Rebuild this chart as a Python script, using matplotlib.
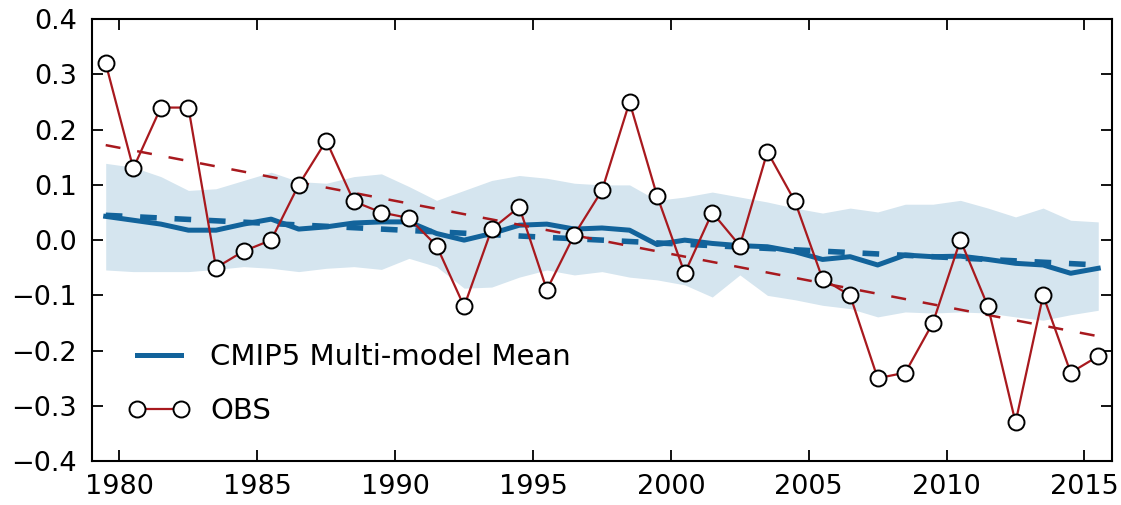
import numpy as np
import matplotlib
matplotlib.use("Agg")
import matplotlib.pyplot as plt
from matplotlib.ticker import FuncFormatter

plt.rcParams['font.family'] = ['DejaVu Sans']

# %% data
years = np.arange(1979, 2016)

obs = [0.32, 0.13, 0.24, 0.24, -0.05, -0.02, 0.00, 0.10, 0.18, 0.07,
       0.05, 0.04, -0.01, -0.12, 0.02, 0.06, -0.09, 0.01, 0.09, 0.25,
       0.08, -0.06, 0.05, -0.01, 0.16, 0.07, -0.07, -0.10, -0.25, -0.24,
       -0.15, 0.00, -0.12, -0.33, -0.10, -0.24, -0.21]

cmip_mean = [0.043, 0.036, 0.029, 0.018, 0.018, 0.029, 0.038, 0.020, 0.024, 0.031,
             0.033, 0.033, 0.012, 0.000, 0.012, 0.027, 0.029, 0.020, 0.022, 0.018,
             -0.008, 0.000, -0.006, -0.010, -0.012, -0.021, -0.035, -0.030, -0.045, -0.027,
             -0.030, -0.029, -0.035, -0.042, -0.045, -0.060, -0.051]

cmip_upper = [0.139, 0.132, 0.115, 0.090, 0.093, 0.108, 0.123, 0.106, 0.103, 0.115,
              0.120, 0.097, 0.072, 0.090, 0.108, 0.117, 0.112, 0.103, 0.100, 0.100,
              0.072, 0.078, 0.087, 0.078, 0.069, 0.058, 0.049, 0.058, 0.051, 0.065,
              0.065, 0.072, 0.058, 0.042, 0.058, 0.036, 0.033]

cmip_lower = [-0.054, -0.057, -0.057, -0.057, -0.053, -0.048, -0.051, -0.057, -0.051, -0.048,
              -0.053, -0.033, -0.048, -0.087, -0.085, -0.067, -0.054, -0.063, -0.057, -0.067,
              -0.072, -0.081, -0.103, -0.063, -0.100, -0.108, -0.118, -0.124, -0.139, -0.130,
              -0.132, -0.130, -0.132, -0.139, -0.145, -0.135, -0.127]

# linear trends, end values (first year, last year)
obs_trend = [0.172, -0.174]
cmip_trend = [0.045, -0.045]

xticks = [1980, 1985, 1990, 1995, 2000, 2005, 2010, 2015]
yticks = [-0.4, -0.3, -0.2, -0.1, 0.0, 0.1, 0.2, 0.3, 0.4]

red = '#a8191e'
blue = '#12639b'
band = '#d5e5ef'

# %% plot
x = years + 0.5
x_ends = [x[0], x[-1]]

fig = plt.figure(figsize=(11.21, 5.05), dpi=100)
ax = fig.add_axes([0.082, 0.087, 0.910, 0.875])

ax.fill_between(x, cmip_lower, cmip_upper, color=band, lw=0, zorder=1)
ax.plot(x_ends, cmip_trend, color=blue, lw=4.0, dashes=(3, 3.2), zorder=2)
cm_line, = ax.plot(x, cmip_mean, color=blue, lw=3.6, zorder=3,
                   label='CMIP5 Multi-model Mean')
ax.plot(x_ends, obs_trend, color=red, lw=1.8, dashes=(6, 6.8), zorder=4)
obs_line, = ax.plot(x, obs, color=red, lw=1.6, marker='o', ms=11.5,
                    mfc='white', mec='black', mew=1.4, zorder=5, label='OBS')

ax.set_xlim(1979, 2016)
ax.set_ylim(-0.4, 0.4)
ax.set_xticks(xticks)
ax.set_yticks(yticks)
ax.yaxis.set_major_formatter(FuncFormatter(
    lambda v, p: f"{abs(v):.1f}" if abs(v) < 1e-9 else f"{v:.1f}".replace('-', '\u2212')))

ax.tick_params(direction='in', length=8, width=1.3, labelsize=19.5,
               top=True, right=True, colors='black')
ax.tick_params(axis='y', pad=11)
ax.tick_params(axis='x', pad=9)
for s in ax.spines.values():
    s.set_linewidth(1.5)

ax.legend(handles=[cm_line, obs_line], loc='lower left',
          bbox_to_anchor=(0.01, 0.022), frameon=False, fontsize=21,
          numpoints=2, handlelength=2.1, handletextpad=0.7, labelspacing=0.9)

fig.savefig('out.png', dpi=100)
